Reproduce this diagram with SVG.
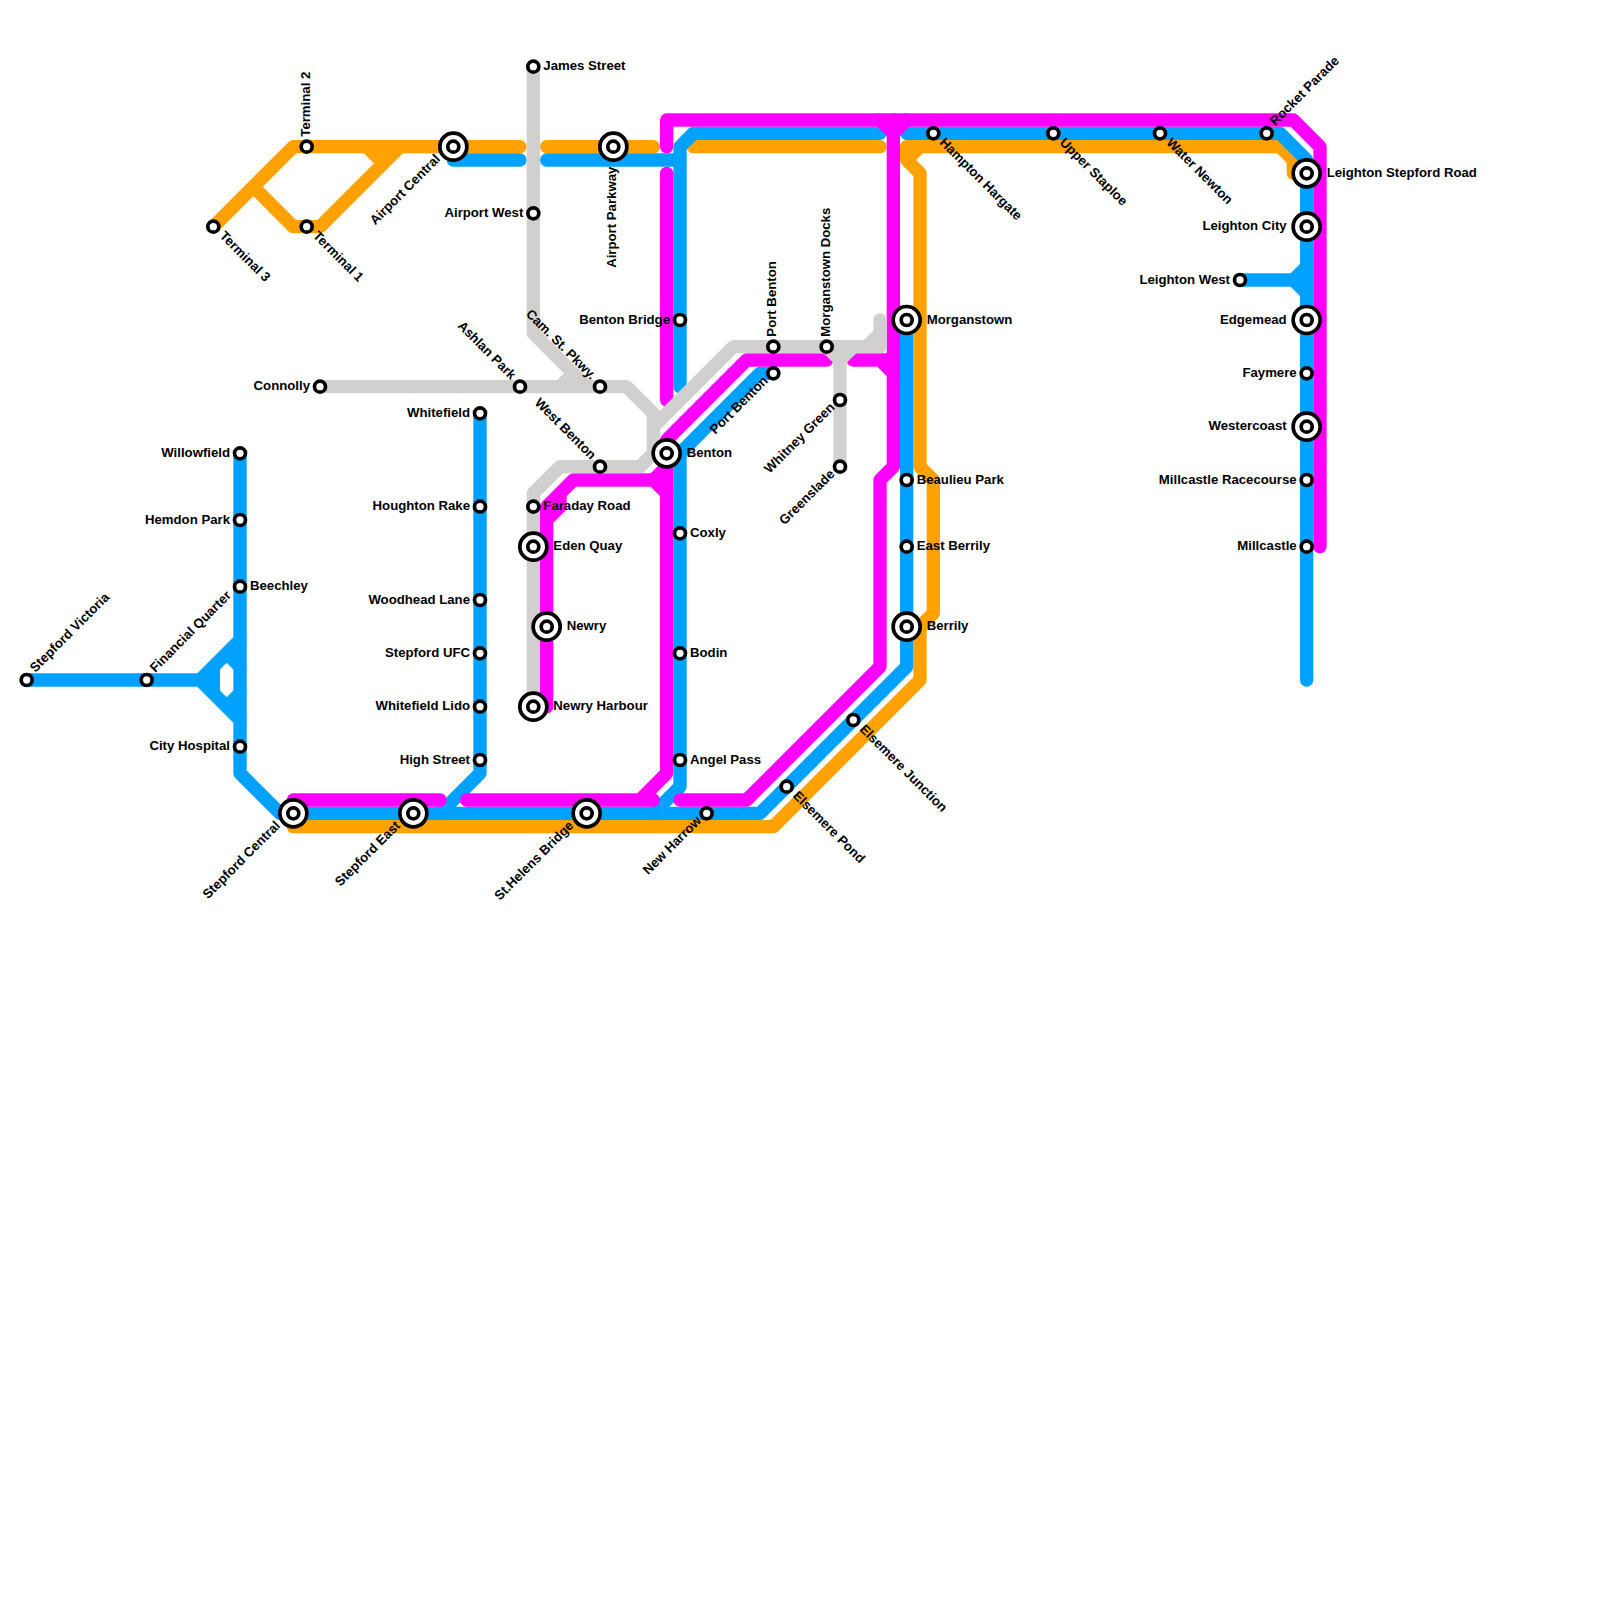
<svg xmlns="http://www.w3.org/2000/svg" width="1600" height="1600" viewBox="0 0 1600 1600">
<style>
.ln{fill:none;stroke-width:1;stroke-linecap:round;stroke-linejoin:round}
.o{stroke:#ffa100}.b{stroke:#00a1ff}.m{stroke:#ff00ff}.g{stroke:#d1d0ce}
.st{fill:#fff;stroke:#000;stroke-width:3.7}
text{font-family:"Liberation Sans",Arial,sans-serif;font-size:13.2px;font-weight:700;fill:#000}
.e{text-anchor:end}
</style>
<defs>
<g id="s"><circle class="st" r="5.5"/></g>
<g id="x"><circle class="st" r="13.5"/><circle class="st" r="5.5"/></g>
</defs>
<rect width="1600" height="1600" fill="#fff"/>
<g id="connectors" transform="scale(13.33333)">
<g class="ln o">
<path d="M16 17L22 11H39M19 14L22 17H24L30 11M27.5 11L28.75 12.25"/>
<path d="M41 11H49M52 11H66"/>
<path d="M96 11L97 12V13M96 11H68V12L69 13V35L70 36V46L69 47V51L58 62H22M69 11L68 12"/>
</g>
<g class="ln b">
<path d="M2 51H15L18 48M15 51L18 54M16 50V52M17 49L18 50M17 53L18 52"/>
<path d="M18 34V58L21 61H57L68 50V24"/>
<path d="M36 31V58L33 61"/>
<path d="M34 12H39M41 12H51"/>
<path d="M51 29V11L52 10H66"/>
<path d="M58 28H57L51 34V59L49 61"/>
<path d="M68 10H96L98 12V51M93 21H97L98 20M97 21L98 22"/>
</g>
<g class="ln m">
<path d="M50 11V9H97L99 11V41"/>
<path d="M50 13V30"/>
<path d="M66 9L67 10L68 9M67 9V35L66 36V50L56 60H51"/>
<path d="M62 27H56L50 33V58L48 60M49 60H35"/>
<path d="M64 27H67M66 27L67 28"/>
<path d="M22 60H33"/>
<path d="M50 36H43L41 38V53M42 37V38L41 39M49 36L50 37M49 36L50 35"/>
</g>
<g class="ln g">
<path d="M40 5V25L44 29M43 28L42 29M24 29H47L49 31V34L48 35H42L40 37V53"/>
<path d="M66 24V26H55L49 32M65 26L66 25"/>
<path d="M63 26V35M62 26L63 27L64 26"/>
</g>
</g>
<g id="stations">
<g id="stepford-victoria" transform="translate(26.67,680)"><use href="#s"/><text transform="rotate(-45)" x="11" y="1">Stepford Victoria</text></g>
<g id="financial-quarter" transform="translate(146.67,680)"><use href="#s"/><text transform="rotate(-45)" x="11" y="1">Financial Quarter</text></g>
<g id="willowfield" transform="translate(240,453.33)"><use href="#s"/><text class="e" x="-10" y="3.8">Willowfield</text></g>
<g id="hemdon-park" transform="translate(240,520)"><use href="#s"/><text class="e" x="-10" y="3.8">Hemdon Park</text></g>
<g id="beechley" transform="translate(240,586.67)"><use href="#s"/><text x="10" y="3.8">Beechley</text></g>
<g id="city-hospital" transform="translate(240,746.67)"><use href="#s"/><text class="e" x="-10" y="3.8">City Hospital</text></g>
<g id="stepford-central" transform="translate(293.33,813.33)"><use href="#x"/><text class="e" transform="rotate(-45)" x="-18" y="0.5">Stepford Central</text></g>
<g id="stepford-east" transform="translate(413.33,813.33)"><use href="#x"/><text class="e" transform="rotate(-45)" x="-18" y="0.5">Stepford East</text></g>
<g id="st-helens-bridge" transform="translate(586.67,813.33)"><use href="#x"/><text class="e" transform="rotate(-45)" x="-18" y="0.5">St.Helens Bridge</text></g>
<g id="new-harrow" transform="translate(706.67,813.33)"><use href="#s"/><text class="e" transform="rotate(-45)" x="-9" y="2.5">New Harrow</text></g>
<g id="whitefield" transform="translate(480,413.33)"><use href="#s"/><text class="e" x="-10" y="3.8">Whitefield</text></g>
<g id="houghton-rake" transform="translate(480,506.67)"><use href="#s"/><text class="e" x="-10" y="3.8">Houghton Rake</text></g>
<g id="woodhead-lane" transform="translate(480,600)"><use href="#s"/><text class="e" x="-10" y="3.8">Woodhead Lane</text></g>
<g id="stepford-ufc" transform="translate(480,653.33)"><use href="#s"/><text class="e" x="-10" y="3.8">Stepford UFC</text></g>
<g id="whitefield-lido" transform="translate(480,706.67)"><use href="#s"/><text class="e" x="-10" y="3.8">Whitefield Lido</text></g>
<g id="high-street" transform="translate(480,760)"><use href="#s"/><text class="e" x="-10" y="3.8">High Street</text></g>
<g id="terminal-3" transform="translate(213.33,226.67)"><use href="#s"/><text transform="rotate(45)" x="11" y="3">Terminal 3</text></g>
<g id="terminal-1" transform="translate(306.67,226.67)"><use href="#s"/><text transform="rotate(45)" x="11" y="3">Terminal 1</text></g>
<g id="terminal-2" transform="translate(306.67,146.67)"><use href="#s"/><text transform="rotate(-90)" x="10" y="3">Terminal 2</text></g>
<g id="airport-central" transform="translate(453.33,146.67)"><use href="#x"/><text class="e" transform="rotate(-45)" x="-18" y="0.5">Airport Central</text></g>
<g id="airport-parkway" transform="translate(613.33,146.67)"><use href="#x"/><text class="e" transform="rotate(-90)" x="-20" y="3">Airport Parkway</text></g>
<g id="james-street" transform="translate(533.33,66.67)"><use href="#s"/><text x="10" y="3.8">James Street</text></g>
<g id="airport-west" transform="translate(533.33,213.33)"><use href="#s"/><text class="e" x="-10" y="3.8">Airport West</text></g>
<g id="connolly" transform="translate(320,386.67)"><use href="#s"/><text class="e" x="-10" y="3.8">Connolly</text></g>
<g id="ashlan-park" transform="translate(520,386.67)"><use href="#s"/><text class="e" transform="rotate(45)" x="-11" y="2">Ashlan Park</text></g>
<g id="cam-st-pkwy" transform="translate(600,386.67)"><use href="#s"/><text class="e" transform="rotate(45)" x="-11" y="2">Cam. St. Pkwy.</text></g>
<g id="west-benton" transform="translate(600,466.67)"><use href="#s"/><text class="e" transform="rotate(45)" x="-11" y="2">West Benton</text></g>
<g id="faraday-road" transform="translate(533.33,506.67)"><use href="#s"/><text x="10" y="3.8">Faraday Road</text></g>
<g id="eden-quay" transform="translate(533.33,546.67)"><use href="#x"/><text x="20" y="3.8">Eden Quay</text></g>
<g id="newry" transform="translate(546.67,626.67)"><use href="#x"/><text x="20" y="3.8">Newry</text></g>
<g id="newry-harbour" transform="translate(533.33,706.67)"><use href="#x"/><text x="20" y="3.8">Newry Harbour</text></g>
<g id="benton-bridge" transform="translate(680,320)"><use href="#s"/><text class="e" x="-10" y="3.8">Benton Bridge</text></g>
<g id="benton" transform="translate(666.67,453.33)"><use href="#x"/><text x="20" y="3.8">Benton</text></g>
<g id="coxly" transform="translate(680,533.33)"><use href="#s"/><text x="10" y="3.8">Coxly</text></g>
<g id="bodin" transform="translate(680,653.33)"><use href="#s"/><text x="10" y="3.8">Bodin</text></g>
<g id="angel-pass" transform="translate(680,760)"><use href="#s"/><text x="10" y="3.8">Angel Pass</text></g>
<g id="port-benton-north" transform="translate(773.33,346.67)"><use href="#s"/><text transform="rotate(-90)" x="10" y="3">Port Benton</text></g>
<g id="port-benton-south" transform="translate(773.33,373.33)"><use href="#s"/><text class="e" transform="rotate(-45)" x="-9" y="2.5">Port Benton</text></g>
<g id="morganstown-docks" transform="translate(826.67,346.67)"><use href="#s"/><text transform="rotate(-90)" x="10" y="3">Morganstown Docks</text></g>
<g id="whitney-green" transform="translate(840,400)"><use href="#s"/><text class="e" transform="rotate(-45)" x="-9" y="2.5">Whitney Green</text></g>
<g id="greenslade" transform="translate(840,466.67)"><use href="#s"/><text class="e" transform="rotate(-45)" x="-9" y="2.5">Greenslade</text></g>
<g id="elsemere-pond" transform="translate(786.67,786.67)"><use href="#s"/><text transform="rotate(45)" x="11" y="3">Elsemere Pond</text></g>
<g id="elsemere-junction" transform="translate(853.33,720)"><use href="#s"/><text transform="rotate(45)" x="11" y="3">Elsemere Junction</text></g>
<g id="morganstown" transform="translate(906.67,320)"><use href="#x"/><text x="20" y="3.8">Morganstown</text></g>
<g id="beaulieu-park" transform="translate(906.67,480)"><use href="#s"/><text x="10" y="3.8">Beaulieu Park</text></g>
<g id="east-berrily" transform="translate(906.67,546.67)"><use href="#s"/><text x="10" y="3.8">East Berrily</text></g>
<g id="berrily" transform="translate(906.67,626.67)"><use href="#x"/><text x="20" y="3.8">Berrily</text></g>
<g id="hampton-hargate" transform="translate(933.33,133.33)"><use href="#s"/><text transform="rotate(45)" x="11" y="3">Hampton Hargate</text></g>
<g id="upper-staploe" transform="translate(1053.33,133.33)"><use href="#s"/><text transform="rotate(45)" x="11" y="3">Upper Staploe</text></g>
<g id="water-newton" transform="translate(1160,133.33)"><use href="#s"/><text transform="rotate(45)" x="11" y="3">Water Newton</text></g>
<g id="rocket-parade" transform="translate(1266.67,133.33)"><use href="#s"/><text transform="rotate(-45)" x="11" y="1">Rocket Parade</text></g>
<g id="leighton-stepford-road" transform="translate(1306.67,173.33)"><use href="#x"/><text x="20" y="3.8">Leighton Stepford Road</text></g>
<g id="leighton-city" transform="translate(1306.67,226.67)"><use href="#x"/><text class="e" x="-20" y="3.8">Leighton City</text></g>
<g id="leighton-west" transform="translate(1240,280)"><use href="#s"/><text class="e" x="-10" y="3.8">Leighton West</text></g>
<g id="edgemead" transform="translate(1306.67,320)"><use href="#x"/><text class="e" x="-20" y="3.8">Edgemead</text></g>
<g id="faymere" transform="translate(1306.67,373.33)"><use href="#s"/><text class="e" x="-10" y="3.8">Faymere</text></g>
<g id="westercoast" transform="translate(1306.67,426.67)"><use href="#x"/><text class="e" x="-20" y="3.8">Westercoast</text></g>
<g id="millcastle-racecourse" transform="translate(1306.67,480)"><use href="#s"/><text class="e" x="-10" y="3.8">Millcastle Racecourse</text></g>
<g id="millcastle" transform="translate(1306.67,546.67)"><use href="#s"/><text class="e" x="-10" y="3.8">Millcastle</text></g>
</g>
</svg>
